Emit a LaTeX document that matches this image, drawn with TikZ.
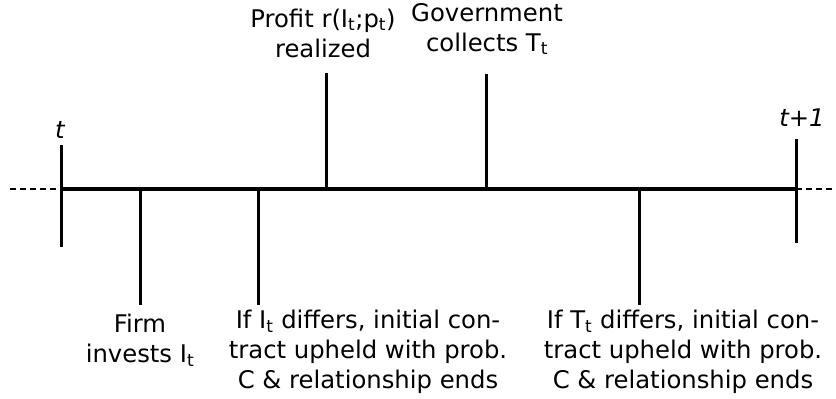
\documentclass[tikz,border=0pt]{standalone}
\usepackage{fontspec}
\setmainfont{DejaVu Sans}
\usepackage{tikz}
\usetikzlibrary{positioning}

\begin{document}
\begin{tikzpicture}[x=1pt,y=-1pt,
  tick/.style={line width=3pt},
  free/.style={line width=1.6pt,dash pattern=on 6pt off 4pt},
  event/.style={align=center,inner sep=0pt,font=\fontsize{24.3}{30}\selectfont},
  period/.style={inner sep=0pt,font=\fontsize{24.3}{28}\selectfont\itshape}]
\useasboundingbox (0,0) rectangle (836,399);

% Time axis
\coordinate (start) at (61,189);
\coordinate (end) at (796,189);
\coordinate (lfree) at (10,189);
\coordinate (rfree) at (832,189);
\draw[line width=4pt] (start) -- (end);
\draw[free] (lfree) -- (start);
\draw[free] (end) -- (rfree);

% Period ticks
\coordinate (ttop) at (61,145);
\coordinate (tbot) at (61,247);
\coordinate (sttop) at (796,139);
\coordinate (stbot) at (796,243);
\draw[tick] (ttop) -- (tbot);
\draw[tick] (sttop) -- (stbot);
\node[period] (tlab) at (60,130) {t};
\node[period] (stlab) at (802,118) {t+1};

% Events above the axis
\foreach \name/\x/\top in {profit/326/73, gov/486/74}
  \draw[tick] (\x,189) coordinate (\name a) -- (\x,\top) coordinate (\name b);

% Events below the axis
\foreach \name/\x in {firm/140, dev/258, tax/639}
  \draw[tick] (\x,189) coordinate (\name a) -- (\x,305) coordinate (\name b);

% Event labels
\node[event] (profit) at (323,33) {Profit r(I\textsubscript{t};p\textsubscript{t})\\realized};
\node[event] (gov) at (487,29) {Government\\collects T\textsubscript{t}};
\node[event] (firm) at (140,340) {Firm\\invests I\textsubscript{t}};
\node[event] (dev) at (368,352) {If I\textsubscript{t} differs, initial con-\\tract upheld with prob.\\C \& relationship ends};
\node[event] (tax) at (683,352) {If T\textsubscript{t} differs, initial con-\\tract upheld with prob.\\C \& relationship ends};
\end{tikzpicture}
\end{document}
